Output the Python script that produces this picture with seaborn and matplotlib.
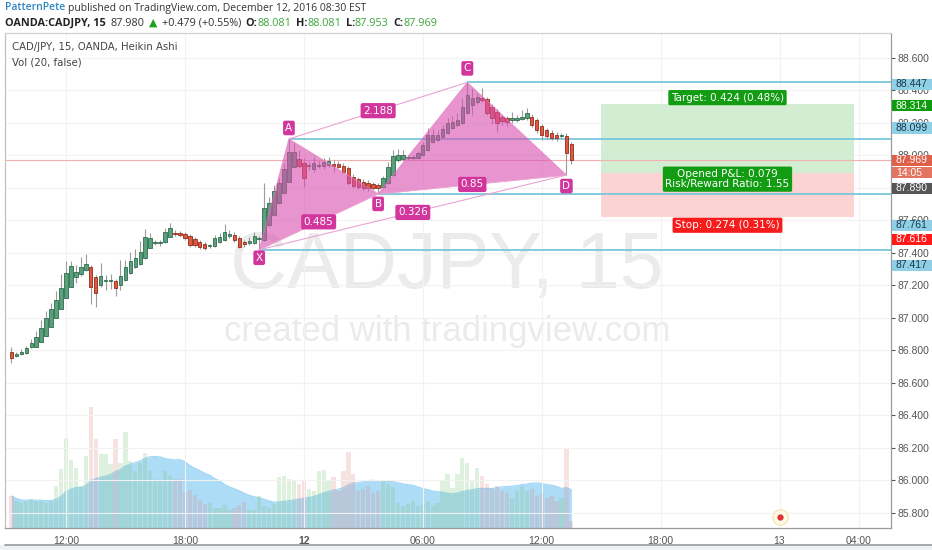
import numpy as np
import pandas as pd
import seaborn as sns
import matplotlib.pyplot as plt
from matplotlib.patches import Rectangle, Polygon
import matplotlib.transforms as mtransforms

# CAD/JPY 15 min, Heikin Ashi, bar 0 = first bar on screen
ha_open = [86.790, 86.766, 86.774, 86.782, 86.817, 86.820, 86.851, 86.888, 86.943, 86.999,
           87.052, 87.120, 87.190, 87.251, 87.268, 87.292, 87.313, 87.251, 87.200, 87.225,
           87.225, 87.225, 87.200, 87.231, 87.272, 87.309, 87.327, 87.364, 87.430, 87.458,
           87.458, 87.466, 87.497, 87.522, 87.518, 87.512, 87.502, 87.481, 87.466, 87.452,
           87.438, 87.440, 87.466, 87.477, 87.502, 87.508, 87.487, 87.463, 87.457, 87.460,
           87.481, 87.477, 87.569, 87.631, 87.703, 87.764, 87.836, 87.928, 87.974, 87.953,
           87.930, 87.912, 87.930, 87.932, 87.938, 87.945, 87.945, 87.932, 87.918, 87.866,
           87.850, 87.836, 87.830, 87.822, 87.815, 87.805, 87.826, 87.877, 87.969, 87.974,
           87.982, 87.982, 87.983, 88.000, 88.031, 88.082, 88.092, 88.109, 88.134, 88.164,
           88.185, 88.195, 88.257, 88.308, 88.328, 88.344, 88.343, 88.297, 88.266, 88.232,
           88.226, 88.215, 88.218, 88.220, 88.226, 88.236, 88.215, 88.178, 88.154, 88.137,
           88.123, 88.115, 88.117, 88.068]
ha_close = [86.753, 86.772, 86.790, 86.812, 86.845, 86.882, 86.935, 86.999, 87.052, 87.108,
            87.183, 87.274, 87.317, 87.282, 87.313, 87.329, 87.190, 87.149, 87.255, 87.228,
            87.229, 87.180, 87.255, 87.309, 87.348, 87.364, 87.401, 87.494, 87.487, 87.462,
            87.462, 87.528, 87.549, 87.514, 87.508, 87.487, 87.446, 87.446, 87.436, 87.426,
            87.441, 87.487, 87.497, 87.528, 87.512, 87.477, 87.436, 87.452, 87.471, 87.502,
            87.485, 87.672, 87.706, 87.780, 87.826, 87.912, 88.020, 88.020, 87.932, 87.857,
            87.934, 87.949, 87.934, 87.959, 87.963, 87.932, 87.928, 87.897, 87.826, 87.809,
            87.805, 87.799, 87.795, 87.795, 87.795, 87.857, 87.928, 87.994, 88.000, 88.000,
            87.985, 87.985, 88.010, 88.062, 88.123, 88.123, 88.123, 88.158, 88.195, 88.205,
            88.215, 88.297, 88.369, 88.349, 88.355, 88.341, 88.257, 88.226, 88.195, 88.211,
            88.205, 88.230, 88.221, 88.236, 88.257, 88.185, 88.154, 88.123, 88.117, 88.103,
            88.103, 88.118, 88.014, 87.969]
ha_high = [86.818, 86.788, 86.806, 86.825, 86.868, 86.917, 86.985, 87.040, 87.089, 87.163,
           87.268, 87.348, 87.348, 87.323, 87.372, 87.391, 87.323, 87.262, 87.335, 87.262,
           87.268, 87.237, 87.354, 87.354, 87.403, 87.422, 87.471, 87.545, 87.520, 87.477,
           87.477, 87.551, 87.583, 87.538, 87.532, 87.526, 87.514, 87.495, 87.477, 87.465,
           87.452, 87.508, 87.520, 87.575, 87.538, 87.526, 87.502, 87.477, 87.495, 87.526,
           87.502, 87.828, 87.742, 87.815, 87.858, 87.951, 88.099, 88.074, 88.031, 87.982,
           87.957, 87.988, 87.963, 87.982, 87.988, 87.969, 87.963, 87.951, 87.932, 87.883,
           87.865, 87.852, 87.846, 87.834, 87.828, 87.871, 87.957, 88.031, 88.037, 88.031,
           88.000, 88.000, 88.025, 88.080, 88.166, 88.160, 88.154, 88.185, 88.228, 88.240,
           88.258, 88.351, 88.447, 88.412, 88.382, 88.412, 88.357, 88.314, 88.283, 88.246,
           88.240, 88.265, 88.246, 88.277, 88.289, 88.252, 88.228, 88.191, 88.166, 88.154,
           88.142, 88.135, 88.135, 88.080]
ha_low = [86.720, 86.757, 86.769, 86.775, 86.812, 86.818, 86.849, 86.886, 86.942, 86.997,
          87.052, 87.120, 87.188, 87.212, 87.255, 87.286, 87.083, 87.065, 87.188, 87.169,
          87.175, 87.132, 87.169, 87.225, 87.268, 87.305, 87.323, 87.360, 87.428, 87.446,
          87.440, 87.458, 87.495, 87.502, 87.495, 87.477, 87.434, 87.434, 87.422, 87.415,
          87.428, 87.434, 87.458, 87.471, 87.489, 87.465, 87.428, 87.434, 87.446, 87.452,
          87.417, 87.471, 87.563, 87.625, 87.698, 87.760, 87.834, 87.920, 87.920, 87.805,
          87.908, 87.895, 87.920, 87.914, 87.926, 87.895, 87.920, 87.889, 87.815, 87.797,
          87.791, 87.785, 87.778, 87.785, 87.761, 87.797, 87.822, 87.871, 87.957, 87.963,
          87.969, 87.969, 87.975, 87.994, 88.025, 88.074, 88.086, 88.105, 88.129, 88.160,
          88.178, 88.191, 88.252, 88.246, 88.314, 88.326, 88.246, 88.191, 88.143, 88.185,
          88.178, 88.197, 88.203, 88.215, 88.215, 88.172, 88.135, 88.092, 88.098, 88.092,
          88.086, 88.105, 87.877, 87.945]
volume = [32, 27, 25, 27, 29, 27, 27, 25, 27, 42,
          59, 90, 68, 60, 42, 72, 121, 89, 74, 74,
          64, 89, 65, 96, 67, 57, 65, 75, 57, 49,
          47, 57, 52, 49, 49, 36, 38, 33, 28, 24,
          25, 20, 20, 23, 18, 20, 23, 26, 18, 18,
          32, 22, 20, 24, 51, 52, 49, 47, 44, 47,
          39, 37, 57, 58, 47, 51, 37, 57, 76, 54,
          37, 39, 42, 35, 37, 47, 44, 41, 25, 22,
          24, 27, 22, 24, 27, 22, 25, 47, 54, 40,
          54, 70, 65, 47, 60, 52, 44, 39, 42, 37,
          35, 30, 37, 42, 37, 39, 32, 35, 30, 32,
          27, 30, 80, 7]

time_ticks = [11, 35, 59, 83, 107, 131, 155, 171]
time_labels = ["12:00", "18:00", "12", "06:00", "12:00", "18:00", "13", "04:00"]
price_ticks = [85.8, 86.0, 86.2, 86.4, 86.6, 86.8, 87.0, 87.2, 87.4, 87.6, 87.8, 88.0, 88.2, 88.4, 88.6]

# harmonic pattern points
pat_names = ["X", "A", "B", "C", "D"]
pat_bar = [50, 56, 74, 92, 112]
pat_price = [87.417, 88.099, 87.761, 88.447, 87.877]
ratio_text = ["0.485", "2.188", "0.326", "0.85"]   # XB, AC, XD, BD

# long position
entry, target, stop = 87.890, 88.314, 87.616
pos_from, pos_to = 119, 170
last_price = 87.969
event_bar = 155

W, H = 932, 550
sns.set_style("white")
plt.rcParams['font.family'] = ['Liberation Sans', 'DejaVu Sans']

fig = plt.figure(figsize=(W / 100, H / 100), dpi=100)
fig.patch.set_facecolor("white")

def fx(x):
    return x / W

def fy(y):
    return 1 - y / H

ax = fig.add_axes([fx(5), fy(528), (891 - 5) / W, (528 - 33) / H])
ax2 = ax.twinx()
ax.set_zorder(3)
ax2.set_zorder(2)
ax.patch.set_visible(False)

idx = np.arange(len(ha_open))
o = np.array(ha_open)
c = np.array(ha_close)
up = c >= o

# volume + MA(20) area
vol = pd.Series(volume, dtype=float)
ma = vol.rolling(20, min_periods=1).mean()
ax2.fill_between(idx, 0, ma, color="#9fd6f6", alpha=0.85, linewidth=0, zorder=1)
sns.lineplot(x=idx, y=ma.values, ax=ax2, color="#9fd6f6", linewidth=0.8, zorder=1)
ax2.bar(idx[up], vol[up], width=0.85, color="#7fc47f", alpha=0.25, linewidth=0, zorder=2)
ax2.bar(idx[~up], vol[~up], width=0.85, color="#e08b8b", alpha=0.25, linewidth=0, zorder=2)
ax2.set_ylim(0, 495)
ax2.set_yticks([])
for s in ax2.spines.values():
    s.set_visible(False)

# grid
for t in time_ticks:
    ax.axvline(t, color="#f2f2f2", lw=0.8, zorder=0)
for p in price_ticks:
    ax.axhline(p, color="#f2f2f2", lw=0.8, zorder=0)

# watermark
fig.text(fx(447), fy(268), "CADJPY, 15", ha="center", va="center", fontsize=57,
         color="#ebebeb", family="Liberation Sans", zorder=2.5)
fig.text(fx(447), fy(331), "created with tradingview.com", ha="center", va="center",
         fontsize=25, color="#ebebeb", family="Liberation Sans", zorder=2.5)

# position tool boxes
ax.add_patch(Rectangle((pos_from, entry), pos_to - pos_from, target - entry,
                       fc="#d3edd3", ec="none", zorder=1))
ax.add_patch(Rectangle((pos_from, stop), pos_to - pos_from, entry - stop,
                       fc="#fcd3d3", ec="none", zorder=1))

# current price line and pattern levels
ax.axhline(last_price, color="#f3b0b0", lw=0.8, zorder=1.5)
for name, b, p in zip(pat_names, pat_bar, pat_price):
    if name == "D":
        continue
    ax.hlines(p, b, 178, color="#79c6dd", lw=1.3, zorder=1.6)

# candles
ax.vlines(idx, ha_low, ha_high, color="#9b9b9b", lw=0.8, zorder=4)
body_lo = np.minimum(o, c)
body_h = np.maximum(np.abs(c - o), 0.008)
ax.bar(idx[up], body_h[up], bottom=body_lo[up], width=0.7, color="#58a17b",
       edgecolor="#2f6a4f", linewidth=0.6, zorder=5)
ax.bar(idx[~up], body_h[~up], bottom=body_lo[~up], width=0.7, color="#e2573f",
       edgecolor="#8e2c1c", linewidth=0.6, zorder=5)

# harmonic pattern
pts = list(zip(pat_bar, pat_price))
X, A, B, C, D = pts
pink = "#d94fb0"
ax.add_patch(Polygon([X, A, B], closed=True, fc=pink, alpha=0.6, ec="#e07ac0", lw=0.8, zorder=6))
ax.add_patch(Polygon([B, C, D], closed=True, fc=pink, alpha=0.6, ec="#e07ac0", lw=0.8, zorder=6))
legs = [(X, B), (A, C), (X, D), (B, D)]
for (p1, p2), txt in zip(legs, ratio_text):
    ax.plot([p1[0], p2[0]], [p1[1], p2[1]], color="#eba3d3", lw=0.8, zorder=6)
    ax.text((p1[0] + p2[0]) / 2, (p1[1] + p2[1]) / 2, txt, ha="center", va="center",
            fontsize=7.5, color="white", family="DejaVu Sans", zorder=8,
            bbox=dict(boxstyle="round,pad=0.25,rounding_size=0.2", fc="#d2369c", ec="none"))
letter_off = {"X": -8, "A": 11, "B": -10, "C": 14, "D": -11}
for name, (b, p) in zip(pat_names, pts):
    ax.annotate(name, (b, p), xytext=(0, letter_off[name] * 0.72), textcoords="offset points",
                ha="center", va="center", fontsize=7.5, color="white", family="DejaVu Sans",
                zorder=8, bbox=dict(boxstyle="round,pad=0.22,rounding_size=0.2", fc="#d2369c", ec="none"))

# position labels
mid = (pos_from + pos_to) / 2
ax.annotate(f"Target: {target - entry:.3f} ({(target - entry) / entry * 100:.2f}%)", (mid, target),
            xytext=(0, 1), textcoords="offset points", ha="center", va="bottom", fontsize=7.5,
            color="white", family="DejaVu Sans", zorder=8,
            bbox=dict(boxstyle="round,pad=0.25,rounding_size=0.15", fc="#119c11", ec="none"))
ax.annotate("Opened P&L: 0.079\nRisk/Reward Ratio: 1.55", (mid, entry),
            xytext=(0, -4.5), textcoords="offset points", ha="center", va="center", fontsize=7.5,
            color="white", family="DejaVu Sans", linespacing=1.0, zorder=8,
            bbox=dict(boxstyle="round,pad=0.25,rounding_size=0.15", fc="#119c11", ec="none"))
ax.annotate(f"Stop: {entry - stop:.3f} ({(entry - stop) / entry * 100:.2f}%)", (mid, stop),
            xytext=(0, -2), textcoords="offset points", ha="center", va="top", fontsize=7.5,
            color="white", family="DejaVu Sans", zorder=8,
            bbox=dict(boxstyle="round,pad=0.25,rounding_size=0.15", fc="#f71c1c", ec="none"))

# event marker at bottom
trans = mtransforms.blended_transform_factory(ax.transData, ax.transAxes)
ax.plot([event_bar], [0.022], "o", ms=11, mfc="#fffbe8", mec="#f3e0a8", mew=0.8, transform=trans, zorder=7)
ax.plot([event_bar], [0.022], "o", ms=3.5, color="#e03030", transform=trans, zorder=7)

# axes
ax.set_xlim(-1.3, 177.5)
ax.set_ylim(85.705, 88.751)
ax.set_xticks(time_ticks)
ax.set_xticklabels(time_labels)
ax.xaxis.get_ticklabels()[2].set_fontweight("bold")
ax.set_yticks(price_ticks)
# 87.800 sits fully under the entry-price tag
ax.set_yticklabels(["" if abs(p - 87.8) < 1e-6 else f"{p:.3f}" for p in price_ticks])
ax.yaxis.tick_right()
ax.tick_params(axis="both", labelsize=7.5, colors="#555555", length=3, width=0.8)
ax.tick_params(axis="y", pad=2)
ax.tick_params(axis="x", pad=3)
for s in ax.spines.values():
    s.set_color("#9a9a9a")
    s.set_linewidth(0.9)
ax.spines["top"].set_color("#d0d0d0")
ax.spines["left"].set_color("#c0c0c0")

# legend text inside the chart
fig.text(fx(12), fy(47), "CAD/JPY, 15, OANDA, Heikin Ashi", fontsize=7.3, color="#444444",
         va="center", family="DejaVu Sans")
fig.text(fx(12), fy(62), "Vol (20, false)", fontsize=7.3, color="#444444", va="center",
         family="DejaVu Sans")

# price axis labels
blue_lbl = "#8fd0e6"
axis_labels = [
    (84.5, f"{pat_price[3]:.3f}", blue_lbl, "#1b3a4a"),
    (105.7, f"{target:.3f}", "#0e9c0e", "white"),
    (128, f"{pat_price[1]:.3f}", blue_lbl, "#1b3a4a"),
    (160, f"{last_price:.3f}", "#df5f48", "white"),
    (173, "14:05", "#e4735f", "white"),
    (188, f"{entry:.3f}", "#565656", "white"),
    (225.5, f"{pat_price[2]:.3f}", blue_lbl, "#1b3a4a"),
    (239, f"{stop:.3f}", "#ff1a1a", "white"),
    (265, f"{pat_price[0]:.3f}", blue_lbl, "#1b3a4a"),
]
for yc, txt, fc, tc in axis_labels:
    fig.add_artist(Rectangle((fx(892), fy(yc + 5.5)), 40 / W, 11 / H, transform=fig.transFigure,
                             fc=fc, ec="none", zorder=10))
    fig.text(fx(896), fy(yc), txt, fontsize=7.5, color=tc, va="center", ha="left", zorder=11)

# bottom strip
fig.add_artist(Rectangle((0, 0), 1, 5 / H, transform=fig.transFigure, fc="#eef1f3", ec="none"))
fig.add_artist(plt.Line2D([fx(5), fx(932)], [fy(545), fy(545)], transform=fig.transFigure,
                          color="#9a9a9a", lw=1.2))

# header rows
renderer = fig.canvas.get_renderer()

def put_row(parts, x, y, gap=3):
    for txt, kw in parts:
        if txt == " ":
            x += gap
            continue
        t = fig.text(fx(x), fy(y), txt, va="center", ha="left", **kw)
        x += t.get_window_extent(renderer=renderer).width

hdr = dict(family="Open Sans", fontsize=7.5, color="#333333")
hdr_b = dict(family="Open Sans", fontsize=7.8, color="#222222", fontweight="bold")
hdr_g = dict(family="Open Sans", fontsize=7.8, color="#3aa53a")
put_row([("PatternPete", dict(hdr, color="#2d86c2", fontweight="semibold")), (" ", None),
         ("published on TradingView.com, December 12, 2016 08:30 EST", hdr)], 5, 8)
put_row([("OANDA:CADJPY, 15", hdr_b), (" ", None), ("87.980", dict(hdr, fontsize=7.8)), (" ", None),
         ("▲", dict(family="DejaVu Sans", fontsize=7.8, color="#1f9e1f")), (" ", None),
         ("+0.479 (+0.55%)", dict(hdr, fontsize=7.8)), (" ", None),
         ("O:", hdr_b), ("88.081", hdr_g), (" ", None), ("H:", hdr_b), ("88.081", hdr_g), (" ", None),
         ("L:", hdr_b), ("87.953", hdr_g), (" ", None), ("C:", hdr_b), ("87.969", hdr_g)], 5, 23, gap=4.5)

fig.savefig("out.png", dpi=100)
